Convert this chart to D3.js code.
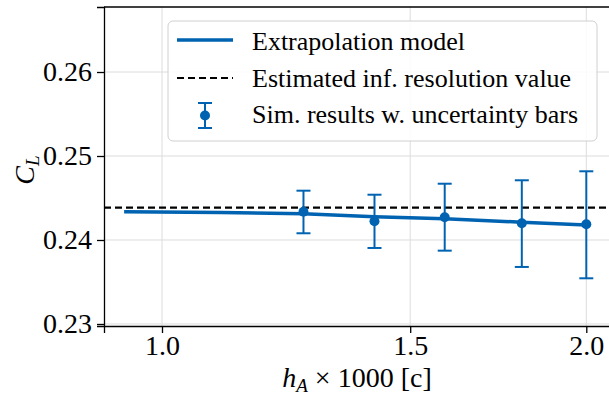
<!DOCTYPE html>
<html>
<head>
<meta charset="utf-8">
<script src="https://cdn.jsdelivr.net/npm/d3@7"></script>
<style>
  body { margin: 0; background: #fff; }
  text { font-family: "Liberation Serif", "Times New Roman", serif; fill: #000; }
</style>
</head>
<body>
<div id="container"></div>
<script>
// simulation results: grid size h_A*1000, C_L and uncertainty bounds
const simH = [1.26, 1.415, 1.587, 1.80, 2.0];
const simCL = [0.24337, 0.24223, 0.2427, 0.24199, 0.24187];
const simLow = [0.2408, 0.23905, 0.23873, 0.23679, 0.23544];
const simHigh = [0.24587, 0.24539, 0.2467, 0.24711, 0.24818];
// extrapolation model curve
const modelH = [0.94, 1.1, 1.26, 1.415, 1.587, 1.80, 2.0];
const modelCL = [0.24337, 0.24327, 0.24312, 0.24277, 0.24252, 0.24212, 0.24178];
const infValue = 0.24385;
const xTicks = [1.0, 1.5, 2.0];
const yTicks = [0.23, 0.24, 0.25, 0.26];
const legendLabels = ['Extrapolation model', 'Estimated inf. resolution value', 'Sim. results w. uncertainty bars'];

const width = 609, height = 399;
const blue = '#0063b1';
const serif = '"Liberation Serif", "Times New Roman", serif';
const svg = d3.select('#container').append('svg').attr('width', width).attr('height', height);

const x = d3.scaleLog().domain([0.9096, 2.096]).range([104, 615]);
const y = d3.scaleLinear().domain([0.22976, 0.26774]).range([326, 7]);

// grid
svg.append('g').selectAll('line').data(xTicks).enter().append('line')
    .attr('x1', d => x(d)).attr('x2', d => x(d)).attr('y1', 7).attr('y2', 326)
    .style('stroke', '#dcdcdc').style('stroke-width', 1);
svg.append('g').selectAll('line').data(yTicks).enter().append('line')
    .attr('x1', 104).attr('x2', 615).attr('y1', d => y(d)).attr('y2', d => y(d))
    .style('stroke', '#dcdcdc').style('stroke-width', 1);

// axes
const xAxis = svg.append('g').attr('transform', 'translate(0,326)')
    .call(d3.axisBottom(x).tickValues(xTicks).tickFormat(d3.format('.1f')).tickSizeOuter(0).tickSize(7).tickPadding(2));
const yAxis = svg.append('g').attr('transform', 'translate(104,0)')
    .call(d3.axisLeft(y).tickValues(yTicks).tickFormat(d3.format('.2f')).tickSizeOuter(0).tickSize(7).tickPadding(5));
[xAxis, yAxis].forEach(a => {
  a.attr('font-family', serif).attr('font-size', 28);
  a.selectAll('text').style('font-family', serif).style('font-size', '28px').attr('fill', '#000');
  a.selectAll('line, path').style('stroke', '#000').style('stroke-width', 1.3);
});
// top spine
svg.append('line').attr('x1', 104).attr('x2', 615).attr('y1', 7).attr('y2', 7)
    .style('stroke', '#000').style('stroke-width', 1.3);

// dashed inf. resolution value
svg.append('line')
    .attr('x1', 104).attr('x2', 615)
    .attr('y1', y(infValue)).attr('y2', y(infValue))
    .style('stroke', '#000').style('stroke-width', 2.2).style('stroke-dasharray', '7,4');

// model line
const line = d3.line().x(d => x(d[0])).y(d => y(d[1]));
svg.append('path')
    .datum(modelH.map((h, i) => [h, modelCL[i]]))
    .attr('d', line)
    .attr('fill', 'none').style('stroke', blue).style('stroke-width', 3.5);

// error bars
let bar = svg.selectAll('g.err')
    .data(simH)
    .enter()
    .append('g').attr('class', 'err');
bar.append('line')
    .attr('x1', d => x(d)).attr('x2', d => x(d))
    .attr('y1', (d, i) => y(simLow[i])).attr('y2', (d, i) => y(simHigh[i]))
    .style('stroke', blue).style('stroke-width', 2);
[simLow, simHigh].forEach(arr => {
  bar.append('line')
    .attr('x1', d => x(d) - 7).attr('x2', d => x(d) + 7)
    .attr('y1', (d, i) => y(arr[i])).attr('y2', (d, i) => y(arr[i]))
    .style('stroke', blue).style('stroke-width', 2);
});
bar.append('circle')
    .attr('cx', d => x(d)).attr('cy', (d, i) => y(simCL[i]))
    .attr('r', 5).attr('fill', blue);

// legend
const lg = svg.append('g');
lg.append('rect').attr('x', 168).attr('y', 21).attr('width', 429).attr('height', 120)
    .attr('rx', 5).attr('fill', 'rgba(255,255,255,0.85)')
    .style('stroke', '#d0d0d0').style('stroke-width', 1);
lg.append('line').attr('x1', 177).attr('x2', 233).attr('y1', 40).attr('y2', 40)
    .style('stroke', blue).style('stroke-width', 3.5);
lg.append('line').attr('x1', 177).attr('x2', 233).attr('y1', 78).attr('y2', 78)
    .style('stroke', '#000').style('stroke-width', 2.2).style('stroke-dasharray', '7,4');
lg.append('line').attr('x1', 205).attr('x2', 205).attr('y1', 103).attr('y2', 128)
    .style('stroke', blue).style('stroke-width', 2);
[103, 128].forEach(cy => lg.append('line').attr('x1', 198).attr('x2', 212).attr('y1', cy).attr('y2', cy)
    .style('stroke', blue).style('stroke-width', 2));
lg.append('circle').attr('cx', 205).attr('cy', 115.5).attr('r', 5).attr('fill', blue);
lg.selectAll('text.lbl').data(legendLabels).enter().append('text')
    .attr('class', 'lbl')
    .attr('x', 252).attr('y', (d, i) => 50 + i * 36.5)
    .style('font-size', '26px')
    .text(d => d);

// axis labels
const xl = svg.append('text').attr('x', 357).attr('y', 387).attr('text-anchor', 'middle').style('font-size', '28px');
xl.append('tspan').style('font-style', 'italic').text('h');
xl.append('tspan').style('font-style', 'italic').style('font-size', '19px').attr('dy', 5).text('A');
xl.append('tspan').attr('dy', -5).text(' × 1000 [c]');

const yl = svg.append('text').attr('transform', 'translate(34,170) rotate(-90)').attr('text-anchor', 'middle').style('font-size', '28px');
yl.append('tspan').style('font-style', 'italic').text('C');
yl.append('tspan').style('font-style', 'italic').style('font-size', '19px').attr('dy', 5).text('L');
</script>
</body>
</html>
